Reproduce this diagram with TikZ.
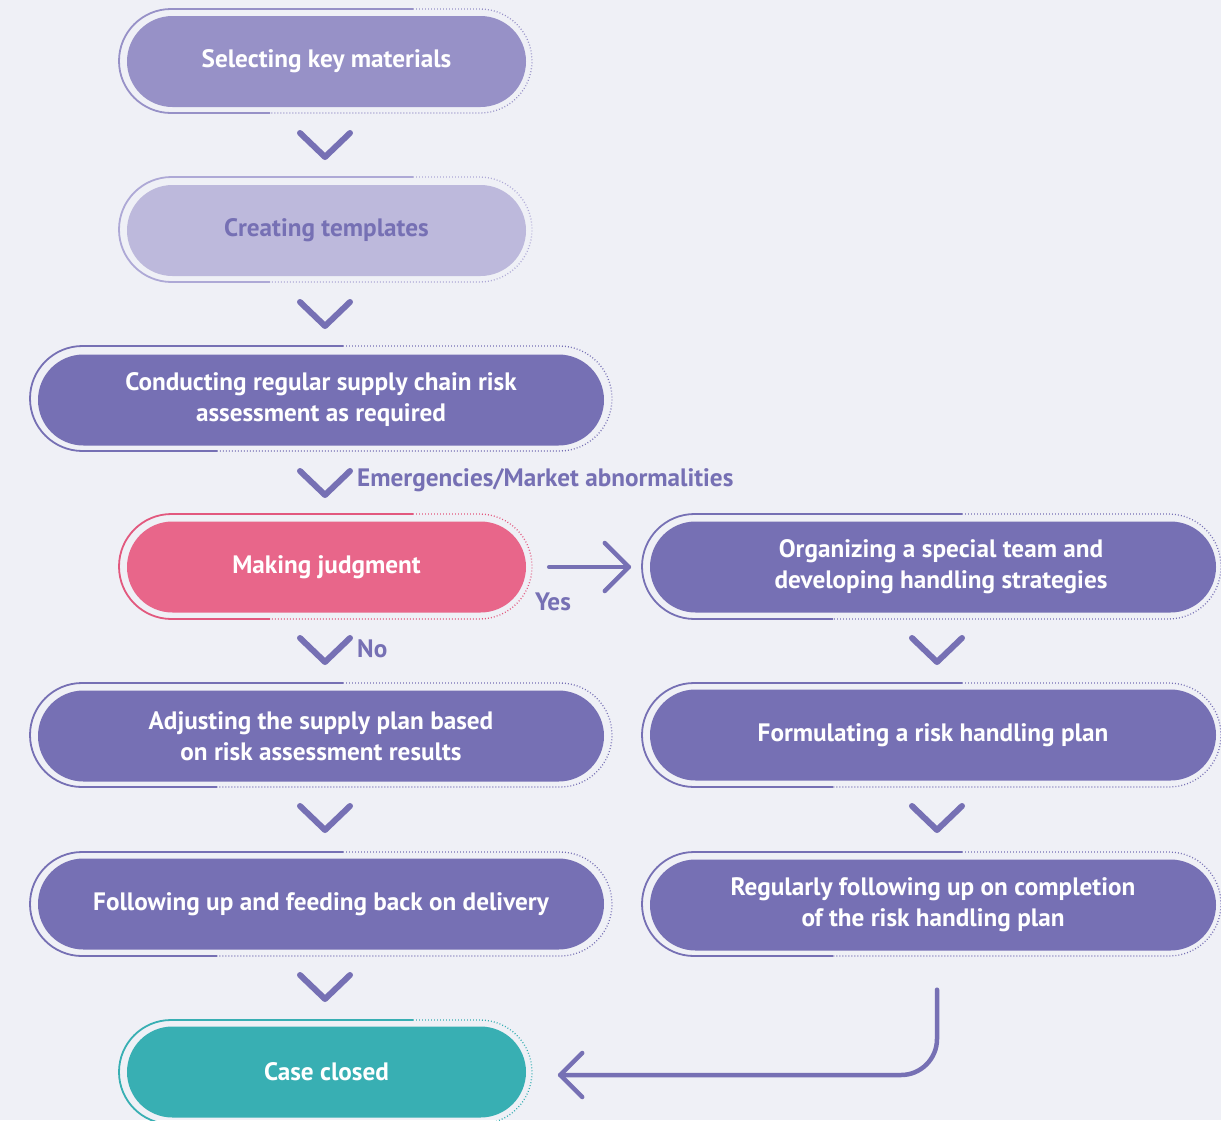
\documentclass[tikz,border=0pt]{standalone}
\usepackage{fontspec}
\setmainfont{PT Sans}
\usetikzlibrary{shapes.misc,calc}
\definecolor{bg}{HTML}{EFF0F6}
\definecolor{pur}{HTML}{7670B4}
\definecolor{pur1}{HTML}{9791C7}
\definecolor{pur2}{HTML}{BDB9DC}
\definecolor{pur2l}{HTML}{AEA9D6}
\definecolor{pink}{HTML}{E8668A}
\definecolor{pinkl}{HTML}{E2587E}
\definecolor{teal}{HTML}{38AFB3}
\tikzset{
  pill/.style={rounded rectangle, minimum height=91pt, inner sep=0pt, align=center,
    text=white, font=\bfseries\fontsize{25.2}{31}\selectfont},
  shortpill/.style={pill, minimum width=399pt},
  widepill/.style={pill, minimum width=566pt},
  solidol/.style={line width=1.8pt},
  dotol/.style={line width=1.3pt, dash pattern=on 0.9pt off 2.1pt},
  chev/.style={draw=pur, line width=6pt, line cap=round, line join=round},
  conn/.style={draw=pur, line width=4.5pt, line cap=round, line join=round},
  lbl/.style={text=pur, font=\bfseries\fontsize{25.2}{30}\selectfont, inner sep=0pt}
}
\newcommand\outl[7]{%
  \pgfmathsetmacro\rr{(#4-#2)/2}%
  \draw[solidol,#7] (#5,-#2) -- ({#1+\rr},-#2) arc[start angle=90,end angle=270,radius=\rr] -- (#6,-#4);
  \draw[dotol,#7] (#5,-#2) -- ({#3-\rr},-#2) arc[start angle=90,end angle=-90,radius=\rr] -- (#6,-#4);
}
\newcommand\chevat[1]{%
  \draw[chev] ($(#1)+(-25,24)$) -- (#1) -- ($(#1)+(25,24)$);
}
\begin{document}
\begin{tikzpicture}[x=1pt,y=1pt]
\fill[bg] (0,0) rectangle (1221,-1120);
\useasboundingbox (0,0) rectangle (1221,-1120);

% outlines
\outl{119}{9}{532}{113}{413}{270}{pur1}
\outl{119}{177}{532}{282}{413}{270}{pur2l}
\outl{30}{346}{612}{451}{343}{217}{pur}
\outl{119}{514}{532}{619}{413}{270}{pinkl}
\outl{642}{514}{1221}{619}{962}{833}{pur}
\outl{30}{683}{612}{787}{343}{217}{pur}
\outl{642}{683}{1221}{787}{962}{833}{pur}
\outl{30}{852}{612}{956}{343}{217}{pur}
\outl{642}{852}{1221}{956}{962}{833}{pur}
\outl{119}{1020}{532}{1124}{413}{270}{teal}

% boxes
\node[shortpill, fill=pur1] (n1) at (326.5,-61.5) {Selecting key materials};
\node[shortpill, fill=pur2, text=pur] (n2) at (326.5,-230.5) {Creating templates};
\node[widepill, fill=pur] (n3) at (321,-400) {Conducting regular supply chain risk\\assessment as required};
\node[shortpill, fill=pink] (n4) at (326.5,-567) {Making judgment};
\node[widepill, fill=pur] (r1) at (933,-567) {\hspace*{16pt}Organizing a special team and\\\hspace*{16pt}developing handling strategies};
\node[widepill, fill=pur] (n5) at (321,-736) {Adjusting the supply plan based\\on risk assessment results};
\node[widepill, fill=pur] (r2) at (933,-735) {Formulating a risk handling plan};
\node[widepill, fill=pur] (n6) at (321,-904) {Following up and feeding back on delivery};
\node[widepill, fill=pur] (r3) at (933,-905) {Regularly following up on completion\\of the risk handling plan};
\node[shortpill, fill=teal] (n7) at (326.5,-1072) {Case closed};

% chevrons
\coordinate (c1) at (325,-157);
\coordinate (c2) at (325,-326);
\coordinate (c3) at (325,-495);
\coordinate (c4) at (325,-662);
\coordinate (c5) at (325,-830);
\coordinate (c6) at (325,-999);
\coordinate (c7) at (937,-662);
\coordinate (c8) at (937,-830);
\chevat{c1}\chevat{c2}\chevat{c3}\chevat{c4}\chevat{c5}\chevat{c6}\chevat{c7}\chevat{c8}

% labels
\node[lbl, anchor=base west] (l1) at (357,-486) {Emergencies/Market abnormalities};
\node[lbl, anchor=base west] (l2) at (357,-657) {No};
\node[lbl, anchor=base west] (l3) at (535,-610) {Yes};

% yes arrow
\coordinate (ya) at ($(n4.east)+(23,0)$);
\coordinate (yb) at ($(r1.west)+(-21,0)$);
\draw[conn] (ya) -- (yb);
\draw[conn] ($(yb)+(-24,24)$) -- (yb) -- ($(yb)+(-24,-24)$);

% return arrow
\coordinate (ra) at ($(r3.south)+(4,-39)$);
\coordinate (rb) at ($(n7.east)+(34,-3)$);
\draw[conn, rounded corners=36pt] (ra) -- (ra |- rb) -- (rb);
\draw[conn] ($(rb)+(22,22)$) -- (rb) -- ($(rb)+(22,-22)$);
\end{tikzpicture}
\end{document}
